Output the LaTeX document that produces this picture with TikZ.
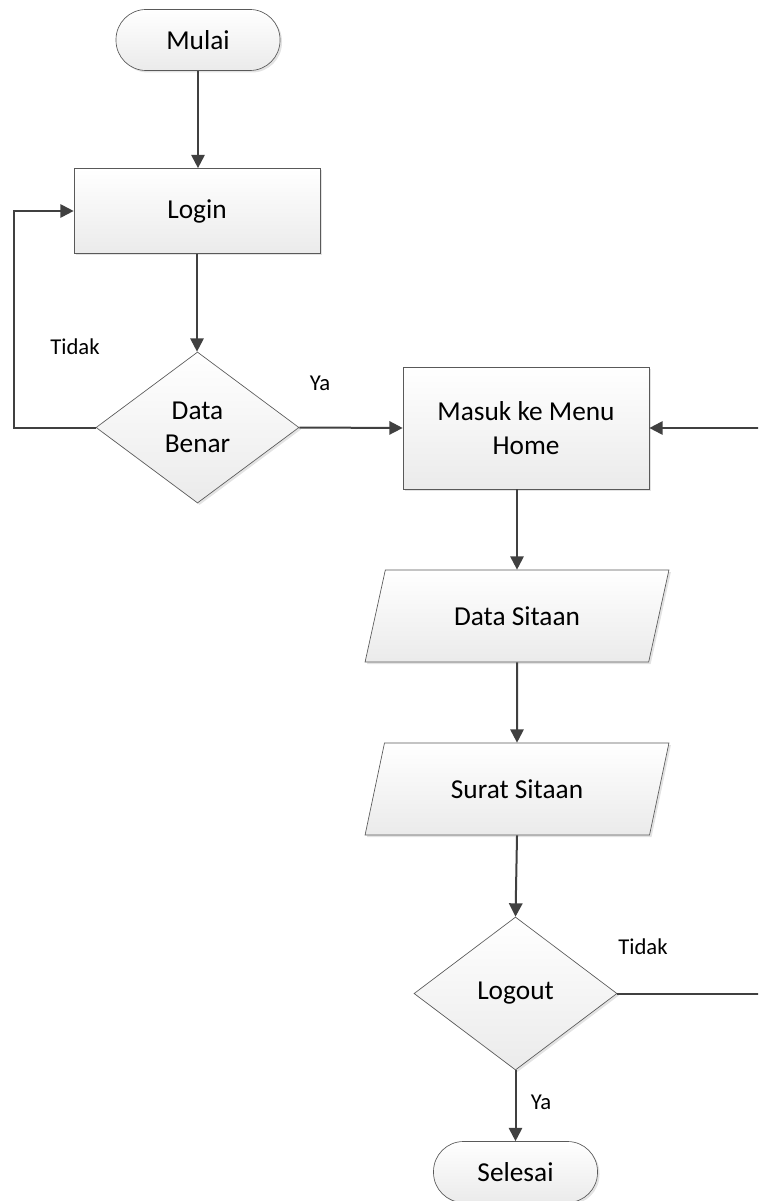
\documentclass[tikz,border=0pt]{standalone}
\usepackage{fontspec}
\setmainfont{Carlito}
\usetikzlibrary{shapes.geometric,arrows.meta,shadows}
\definecolor{linec}{HTML}{404040}
\definecolor{borderc}{HTML}{595959}
\tikzset{
  shapebase/.style={draw=borderc, line width=0.5pt, top color=white, bottom color=black!8,
    drop shadow={shadow xshift=1.5pt, shadow yshift=-1.5pt, fill=black!18, opacity=0.6},
    font=\fontsize{20.5}{25}\selectfont, text=black, align=center, inner sep=0pt},
  terminal/.style={shapebase, rectangle, rounded corners=22.5pt, minimum width=123pt, minimum height=45.75pt},
  process/.style={shapebase, rectangle, minimum width=184.5pt},
  decision/.style={shapebase, diamond, minimum width=152.25pt, minimum height=113.25pt},
  io/.style={shapebase, trapezium, trapezium left angle=63, trapezium right angle=117,
    trapezium stretches=true, minimum width=228pt, minimum height=69pt},
  conn/.style={draw=linec, line width=1.5pt, -{Triangle[length=10pt,width=10pt]}},
  lbl/.style={font=\fontsize{17}{20}\selectfont, text=black, inner sep=0pt}
}
\begin{document}
\begin{tikzpicture}[x=0.75pt,y=-0.75pt]
\useasboundingbox (0,0) rectangle (758,1201);
\clip (0,0) rectangle (758,1201);
\node[terminal] (mulai) at (198,40) {Mulai};
\node[process, minimum height=63.75pt] (login) at (197,211) {Login};
\node[decision] (cek) at (197.5,427.5) {Data\\Benar};
\node[process, minimum height=91.5pt] (home) at (526,428) {Masuk ke Menu\\Home};
\node[io] (data) at (517,616) {Data Sitaan};
\node[io] (surat) at (517,789) {Surat Sitaan};
\node[decision, minimum height=114.75pt] (logout) at (515.5,993.5) {Logout};
\node[terminal] (selesai) at (515.5,1172) {Selesai};
\coordinate (loopL) at (14,427.5);
\coordinate (loopR) at (764,993.5);

\draw[conn] (mulai.south) -- (mulai.south |- login.north);
\draw[conn] (login.south) -- (login.south |- cek.north);
\draw[conn] (cek.west) -- (loopL) |- (login.west);
\draw[conn] (cek.east) -- (home.west);
\draw[conn] (data.north |- home.south) -- (data.north);
\draw[conn] (data.south) -- (surat.north);
\draw[conn] (surat.south) -- (logout.north);
\draw[conn] (logout.south) -- (selesai.north);
\draw[conn] (logout.east) -- (loopR) |- (home.east);

\node[lbl] (t1) at (75,347) {Tidak};
\node[lbl] (y1) at (320,383) {Ya};
\node[lbl] (t2) at (643,947) {Tidak};
\node[lbl] (y2) at (541,1102) {Ya};
\end{tikzpicture}
\end{document}
